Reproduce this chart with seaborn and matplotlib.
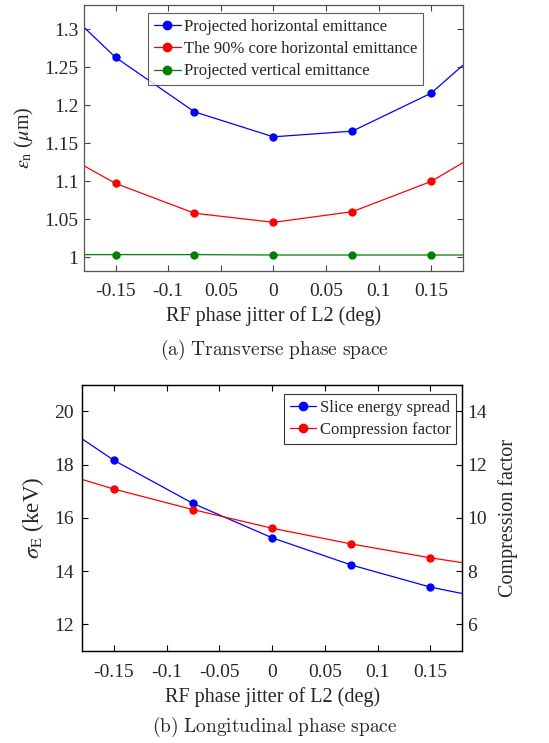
import numpy as np
import pandas as pd
import seaborn as sns
import matplotlib
matplotlib.use("Agg")
import matplotlib.pyplot as plt
from matplotlib.lines import Line2D

sns.set_style("ticks")
plt.rcParams['font.family'] = ['Liberation Serif', 'DejaVu Serif']
plt.rcParams['mathtext.fontset'] = 'stix'
plt.rcParams['axes.unicode_minus'] = False

# ---- data ----
phase = [-0.18, -0.15, -0.075, 0.0, 0.075, 0.15, 0.18]
marker_idx = [1, 2, 3, 4, 5]
proj_h = [1.3026, 1.263, 1.1914, 1.1585, 1.166, 1.216, 1.2526]
core_h = [1.1204, 1.0972, 1.058, 1.046, 1.060, 1.0999, 1.1244]
proj_v = [1.0035, 1.0035, 1.0035, 1.003, 1.003, 1.003, 1.003]
slice_es = [18.96, 18.16, 16.54, 15.25, 14.23, 13.40, 13.16]
comp_f = [11.44, 11.08, 10.31, 9.61, 9.02, 8.50, 8.32]

top_labels = ['Projected horizontal emittance', 'The 90% core horizontal emittance',
              'Projected vertical emittance']
bot_labels = ['Slice energy spread', 'Compression factor']
xticks = [-0.15, -0.1, -0.05, 0, 0.05, 0.1, 0.15]
xticklabels_a = ['-0.15', '-0.1', '0.05', '0', '0.05', '0.1', '0.15']
xticklabels_b = ['-0.15', '-0.1', '-0.05', '0', '0.05', '0.1', '0.15']
yticks_a = [1, 1.05, 1.1, 1.15, 1.2, 1.25, 1.3]
yticklabels_a = ['1', '1.05', '1.1', '1.15', '1.2', '1.25', '1.3']
yticks_b = [12, 14, 16, 18, 20]
yticks_b2 = [6, 8, 10, 12, 14]

BLUE, RED, GREEN = '#0000ff', '#ff0000', '#008000'
LW, MS = 0.9, 6
TICK_FS, LAB_FS, LEG_FS = 14, 14.5, 12

fig = plt.figure(figsize=(5.49, 7.43), dpi=100)
ax1 = fig.add_axes([0.153, 0.6353, 0.690, 0.358])
ax2 = fig.add_axes([0.150, 0.1238, 0.6916, 0.3584])
ax3 = ax2.twinx()


def draw(ax, x, y, color):
    df = pd.DataFrame({'x': x, 'y': y})
    sns.lineplot(data=df, x='x', y='y', ax=ax, color=color, lw=LW, sort=False,
                 legend=False)
    dm = df.iloc[marker_idx]
    sns.scatterplot(data=dm, x='x', y='y', ax=ax, color=color, s=MS**2,
                    edgecolor=color, linewidth=0, legend=False, zorder=3)


# ---- panel (a) ----
draw(ax1, phase, proj_h, BLUE)
draw(ax1, phase, core_h, RED)
draw(ax1, phase, proj_v, GREEN)
ax1.set_xlim(-0.18, 0.18)
ax1.set_ylim(0.982, 1.332)
ax1.set_xticks(xticks)
ax1.set_xticklabels(xticklabels_a)
ax1.set_yticks(yticks_a)
ax1.set_yticklabels(yticklabels_a)
ax1.tick_params(direction='in', top=True, right=True, labelsize=TICK_FS,
                color='#444444', length=4, width=0.8)
ax1.tick_params(axis='x', pad=9)
ax1.tick_params(axis='y', pad=4)
for s in ax1.spines.values():
    s.set_color('#555555')
    s.set_linewidth(0.9)
ax1.set_xlabel('RF phase jitter of L2 (deg)', fontsize=LAB_FS, labelpad=4)
ax1.set_ylabel(r'$\epsilon_{\rm n}$ ($\mu$m)', fontsize=LAB_FS, labelpad=6)
h1 = [Line2D([], [], color=c, lw=LW, marker='o', markersize=MS)
      for c in (BLUE, RED, GREEN)]
leg1 = ax1.legend(h1, top_labels, loc='upper center', bbox_to_anchor=(0.532, 0.970),
                  fontsize=LEG_FS, frameon=True, fancybox=False, handlelength=1.6,
                  handletextpad=0.2, borderpad=0.35, labelspacing=0.38,
                  borderaxespad=0)
leg1.get_frame().set_edgecolor('#333333')
leg1.get_frame().set_linewidth(0.8)

# ---- panel (b) ----
draw(ax2, phase, slice_es, BLUE)
draw(ax3, phase, comp_f, RED)
ax2.set_xlim(-0.18, 0.18)
ax2.set_ylim(11, 21)
ax3.set_ylim(5, 15)
ax2.set_xticks(xticks)
ax2.set_xticklabels(xticklabels_b)
ax2.set_yticks(yticks_b)
ax3.set_yticks(yticks_b2)
ax2.tick_params(direction='in', top=True, labelsize=TICK_FS, color='black',
                length=4, width=0.8)
ax2.tick_params(axis='x', pad=9)
ax2.tick_params(axis='y', pad=6)
ax3.tick_params(direction='in', labelsize=TICK_FS, color='black', length=4,
                width=0.8, pad=4)
for a in (ax2, ax3):
    for s in a.spines.values():
        s.set_color('black')
        s.set_linewidth(0.9)
ax2.set_xlabel('RF phase jitter of L2 (deg)', fontsize=LAB_FS, labelpad=5)
ax2.set_ylabel(r'$\sigma_{\rm E}$ (keV)', fontsize=LAB_FS + 2, labelpad=6)
ax3.set_ylabel('Compression factor', fontsize=LAB_FS, labelpad=8)
h2 = [Line2D([], [], color=c, lw=LW, marker='o', markersize=MS) for c in (BLUE, RED)]
leg2 = ax3.legend(h2, bot_labels, loc='upper right', bbox_to_anchor=(0.985, 0.965),
                  fontsize=LEG_FS, frameon=True, fancybox=False, handlelength=1.6,
                  handletextpad=0.2, borderpad=0.35, labelspacing=0.38,
                  borderaxespad=0)
leg2.get_frame().set_edgecolor('black')
leg2.get_frame().set_linewidth(0.8)

# ---- captions ----
fig.text(0.5, 1 - 350 / 743, r'$\mathrm{(a)\ Transverse\ phase\ space}$',
         ha='center', va='center', fontsize=14, math_fontfamily='cm')
fig.text(0.5, 1 - 727 / 743, r'$\mathrm{(b)\ Longitudinal\ phase\ space}$',
         ha='center', va='center', fontsize=14, math_fontfamily='cm')

fig.savefig('out.png', dpi=100, facecolor='white')
